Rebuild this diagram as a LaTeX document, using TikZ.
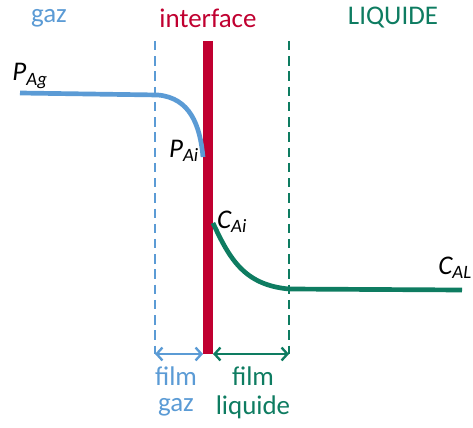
\documentclass[tikz,border=0pt]{standalone}
\usepackage{fontspec}
\setmainfont{Carlito}
\usetikzlibrary{arrows.meta,positioning}
\definecolor{gasblue}{RGB}{91,155,213}
\definecolor{ifred}{RGB}{192,0,48}
\definecolor{liqgreen}{RGB}{14,124,97}
\begin{document}
\begin{tikzpicture}[x=0.03cm,y=-0.03cm,
  title/.style={font=\fontsize{23}{27}\selectfont,inner sep=0pt},
  lbl/.style={font=\fontsize{23}{27}\selectfont\itshape,inner sep=0pt},
  film/.style={font=\fontsize{23}{27}\selectfont,inner sep=0pt},
  curve/.style={line width=4pt},
  film line/.style={line width=2.2pt,dash pattern=on 8pt off 5pt},
  dim/.style={{Straight Barb[length=5pt,width=11pt]}-{Straight Barb[length=5pt,width=11pt]},line width=2pt}]
  \useasboundingbox (0,0) rectangle (473,428);
  % titles
  \node[title,text=gasblue] (gaz) at (49,18) {gaz};
  \node[title,text=ifred] (interf) at (208,18) {interface};
  \node[title,text=liqgreen] (liq) at (393,18) {LIQUIDE};
  % film boundaries and interface
  \coordinate (gtop) at (155,41);
  \coordinate (gbot) at (155,354);
  \coordinate (ltop) at (289,41);
  \coordinate (lbot) at (289,354);
  \coordinate (itop) at (208,41);
  \coordinate (ibot) at (208,354);
  \draw[film line,gasblue] (gtop) -- (gbot);
  \draw[film line,liqgreen] (ltop) -- (lbot);
  \draw[ifred,line width=7.7pt] (itop) -- (ibot);
  % profiles
  \coordinate (pag) at (20,93);
  \coordinate (pai) at (203,157);
  \coordinate (cai) at (213,223);
  \coordinate (cal) at (462,290);
  \draw[curve,gasblue] (pag) -- (158,95) .. controls (190,98) and (200,125) .. (pai);
  \draw[curve,liqgreen] (cai) .. controls (230,260) and (245,285) .. (289,289) -- (cal);
  \node[lbl] (lpag) at (30,76) {P\textsubscript{Ag}};
  \node[lbl] (lpai) at (184,151) {P\textsubscript{Ai}};
  \node[lbl] (lcai) at (232,222) {C\textsubscript{Ai}};
  \node[lbl,anchor=east] (lcal) at (472,268) {C\textsubscript{AL}};
  % film thicknesses
  \coordinate (ga) at (155,354);
  \coordinate (gb) at (203,354);
  \coordinate (la) at (213,354);
  \coordinate (lb) at (289,354);
  \draw[dim,gasblue] (ga) -- (gb);
  \draw[dim,liqgreen] (la) -- (lb);
  \node[film,text=gasblue] (gf1) at (176,376) {film};
  \node[film,text=gasblue] (gf2) at (176,407) {gaz};
  \node[film,text=liqgreen] (lf1) at (253,376) {film};
  \node[film,text=liqgreen] (lf2) at (253,407) {liquide};
\end{tikzpicture}
\end{document}
